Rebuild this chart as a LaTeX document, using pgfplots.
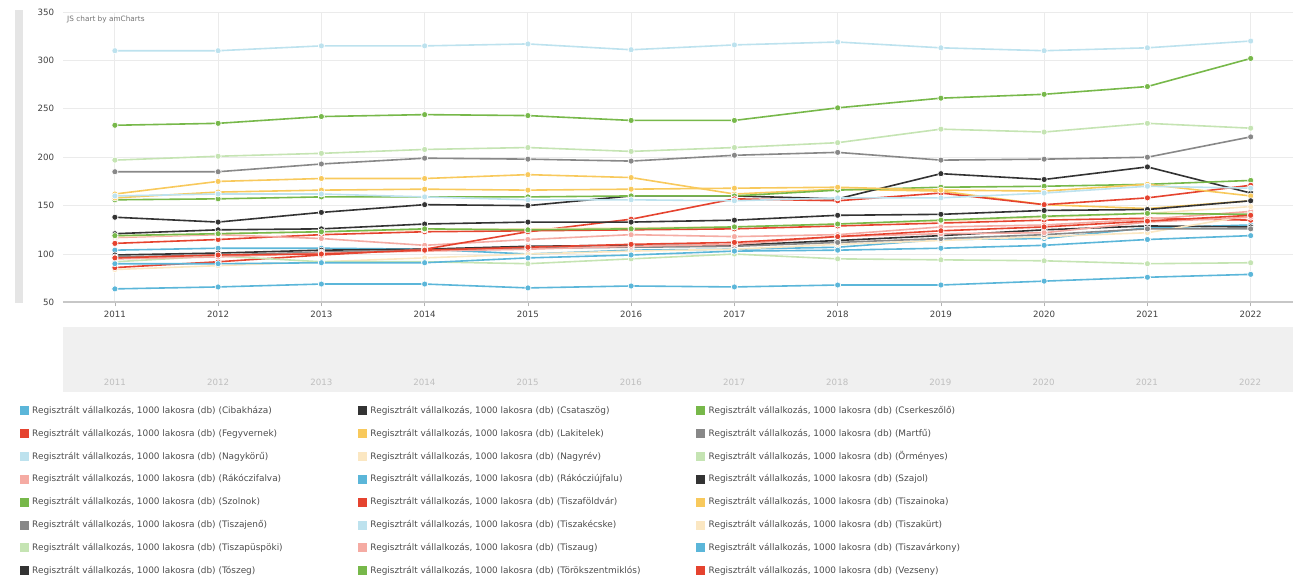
\documentclass[border=0pt]{standalone}
\usepackage{fontspec}
\setmainfont{DejaVu Sans}
\usepackage{pgfplots}
\usepackage{pgfplotstable}
\pgfplotsset{compat=1.18}

\definecolor{cBlue}{HTML}{5BB6D9}
\definecolor{cBlack}{HTML}{333333}
\definecolor{cGreen}{HTML}{77B84A}
\definecolor{cRed}{HTML}{E5432F}
\definecolor{cYellow}{HTML}{F8C95C}
\definecolor{cGray}{HTML}{888888}
\definecolor{cLBlue}{HTML}{BDE2EE}
\definecolor{cLYellow}{HTML}{FBE7C2}
\definecolor{cLGreen}{HTML}{C5E4B3}
\definecolor{cPink}{HTML}{F5ABA3}

% Regisztralt vallalkozas, 1000 lakosra (db)
\pgfplotstableread{
year Cibakhaza Csataszog Cserkeszolo Fegyvernek Lakitelek Martfu Nagykoru Nagyrev Ormenyes Rakoczifalva Rakocziujfalu Szajol Szolnok Tiszafoldvar Tiszainoka Tiszajeno Tiszakecske Tiszakurt Tiszapuspoki Tiszaug Tiszavarkony Toszeg Torokszentmiklos Vezseny
2011 104  99 233 111 162 185 310  84 197 117 64 138 156  86 158  97 160 118 92  95  90 121 119  96
2012 106 101 235 115 175 185 310  88 201 120 66 133 157  92 164  99 162 121 98  97  90 125 121  99
2013 106 104 242 120 178 193 315  92 204 116 69 143 159  99 166 102 162 123 92 101  91 126 123 100
2014 105 105 244 123 178 199 315  96 208 109 69 151 159 105 167 104 159 125 92 103  91 131 126 104
2015 100 108 243 124 182 198 317 100 210 115 65 150 159 123 166 106 156 126 90 105  96 133 125 107
2016 104 109 238 125 179 196 311 103 206 120 67 160 160 136 167 107 156 127 95 108  99 133 126 110
2017 105 109 238 126 162 202 316 105 210 118 66 160 160 157 168 108 155 128 100 110 103 135 128 112
2018 107 114 251 129 167 205 319 110 215 120 68 157 166 155 169 112 158 131 95 118 104 140 131 118
2019 115 119 261 132 165 197 313 114 229 128 68 183 169 163 166 116 158 134 94 121 106 141 135 124
2020 116 125 265 135 151 198 310 118 226 130 72 177 170 151 165 120 163 138 93 122 109 145 139 128
2021 127 129 273 137 147 200 313 122 235 136 76 190 172 158 172 126 170 142 90 133 115 146 142 134
2022 130 128 302 135 155 221 320 140 230 144 79 163 176 171 160 126 168 149 91 138 119 155 141 140
}\data

\pgfplotsset{ser/.style={#1, line width=1.2pt, mark=*, mark size=2.3pt,
  mark options={draw=white, line width=0.5pt, fill=#1, solid}}}

\begin{document}
\begin{tikzpicture}
\begin{scope}[x=0.75pt,y=-0.75pt]
  \path[use as bounding box] (0,0) rectangle (1294,581);
  \fill[black!10] (15,10) rectangle (23,303);
  \fill[black!6] (63,327) rectangle (1294,392);
\end{scope}

\begin{axis}[
  at={(47.25pt,-227.0pt)}, anchor=south west, scale only axis,
  width=923.25pt, height=218pt,
  xmin=2010.497, xmax=2022.41, ymin=50, ymax=350,
  axis x line=bottom, axis y line=left,
  x axis line style={-, draw=black!22, line width=1.5pt},
  y axis line style={draw=none},
  xtick={2011,...,2022},
  xticklabels={2011,2012,2013,2014,2015,2016,2017,2018,2019,2020,2021,2022},
  ytick={50,100,150,200,250,300,350},
  yticklabels={50,100,150,200,250,300,350},
  grid=major, grid style={draw=black!8, line width=0.6pt},
  tick align=outside, major tick length=3pt,
  xtick style={draw=black!30},
  ytick style={draw=none},
  ticklabel style={font=\fontsize{6.5}{7}\selectfont, text=black!75},
]
\addplot[ser=cBlue] table[x=year,y=Cibakhaza]{\data};
\addplot[ser=cBlack] table[x=year,y=Csataszog]{\data};
\addplot[ser=cGreen] table[x=year,y=Cserkeszolo]{\data};
\addplot[ser=cRed] table[x=year,y=Fegyvernek]{\data};
\addplot[ser=cYellow] table[x=year,y=Lakitelek]{\data};
\addplot[ser=cGray] table[x=year,y=Martfu]{\data};
\addplot[ser=cLBlue] table[x=year,y=Nagykoru]{\data};
\addplot[ser=cLYellow] table[x=year,y=Nagyrev]{\data};
\addplot[ser=cLGreen] table[x=year,y=Ormenyes]{\data};
\addplot[ser=cPink] table[x=year,y=Rakoczifalva]{\data};
\addplot[ser=cBlue] table[x=year,y=Rakocziujfalu]{\data};
\addplot[ser=cBlack] table[x=year,y=Szajol]{\data};
\addplot[ser=cGreen] table[x=year,y=Szolnok]{\data};
\addplot[ser=cRed] table[x=year,y=Tiszafoldvar]{\data};
\addplot[ser=cYellow] table[x=year,y=Tiszainoka]{\data};
\addplot[ser=cGray] table[x=year,y=Tiszajeno]{\data};
\addplot[ser=cLBlue] table[x=year,y=Tiszakecske]{\data};
\addplot[ser=cLYellow] table[x=year,y=Tiszakurt]{\data};
\addplot[ser=cLGreen] table[x=year,y=Tiszapuspoki]{\data};
\addplot[ser=cPink] table[x=year,y=Tiszaug]{\data};
\addplot[ser=cBlue] table[x=year,y=Tiszavarkony]{\data};
\addplot[ser=cBlack] table[x=year,y=Toszeg]{\data};
\addplot[ser=cGreen] table[x=year,y=Torokszentmiklos]{\data};
\addplot[ser=cRed] table[x=year,y=Vezseny]{\data};
\end{axis}

\begin{scope}[x=0.75pt,y=-0.75pt]
  \node[anchor=west, inner sep=0pt, text=black!55, font=\fontsize{5.5}{6}\selectfont] at (67,19) {JS chart by amCharts};
  \foreach \k in {0,...,11} {
    \pgfmathtruncatemacro\yr{2011+\k}
    \node[text=black!25, font=\fontsize{6.5}{7}\selectfont] at ({115+103.27*\k},383) {\yr};
  }
  \foreach \c/\n [count=\i from 0] in {cBlue/Cibakháza, cBlack/Csataszög, cGreen/Cserkeszőlő,
      cRed/Fegyvernek, cYellow/Lakitelek, cGray/Martfű,
      cLBlue/Nagykörű, cLYellow/Nagyrév, cLGreen/Örményes,
      cPink/Rákóczifalva, cBlue/Rákócziújfalu, cBlack/Szajol,
      cGreen/Szolnok, cRed/Tiszaföldvár, cYellow/Tiszainoka,
      cGray/Tiszajenő, cLBlue/Tiszakécske, cLYellow/Tiszakürt,
      cLGreen/Tiszapüspöki, cPink/Tiszaug, cBlue/Tiszavárkony,
      cBlack/Tószeg, cGreen/Törökszentmiklós, cRed/Vezseny} {
    \pgfmathtruncatemacro\col{mod(\i,3)}
    \pgfmathtruncatemacro\row{int(\i/3)}
    \fill[\c] ({20+338.5*\col},{406.5+22.9*\row}) rectangle +(9,9);
    \node[anchor=west, inner sep=0pt, text=black!70, font=\fontsize{6.7}{7.5}\selectfont]
      at ({32+338.5*\col},{411+22.9*\row}) {Regisztrált vállalkozás, 1000 lakosra (db) (\n)};
  }
\end{scope}
\end{tikzpicture}
\end{document}
